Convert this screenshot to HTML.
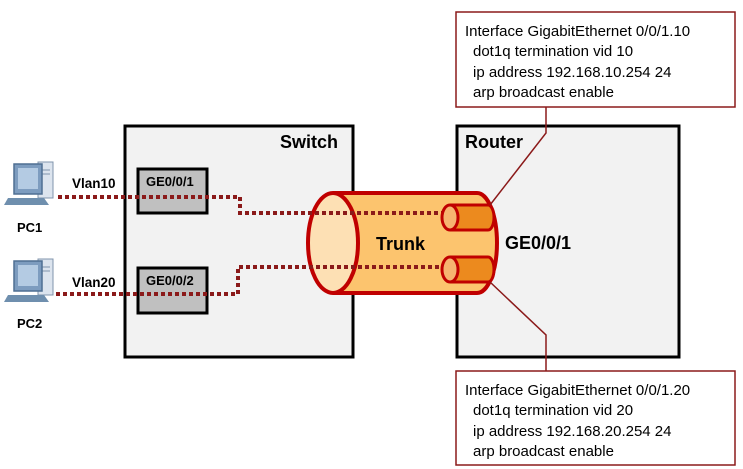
<!DOCTYPE html>
<html><head><style>
html,body{margin:0;padding:0;background:#fff;}
svg{display:block;font-family:"Liberation Sans",Arial,sans-serif;}
</style></head><body>
<svg width="743" height="469" viewBox="0 0 743 469" xmlns="http://www.w3.org/2000/svg">
<rect width="743" height="469" fill="#fff"/>
<rect x="125" y="126" width="228" height="231" fill="#f2f2f2" stroke="#000" stroke-width="3"/>
<text x="338" y="148" font-size="18" font-weight="bold" text-anchor="end">Switch</text>
<rect x="457" y="126" width="222" height="231" fill="#f2f2f2" stroke="#000" stroke-width="3"/>
<text x="465" y="148" font-size="18" font-weight="bold">Router</text>
<text x="505" y="249" font-size="18" font-weight="bold">GE0/0/1</text>
<rect x="138" y="169" width="69" height="44" fill="#c0c0c0" stroke="#000" stroke-width="3"/>
<text x="146" y="186" font-size="13" font-weight="bold">GE0/0/1</text>
<rect x="138" y="268" width="69" height="45" fill="#c0c0c0" stroke="#000" stroke-width="3"/>
<text x="146" y="285" font-size="13" font-weight="bold">GE0/0/2</text>
<g id="pc">
<rect x="38" y="162" width="15" height="36" fill="#dce4ee" stroke="#8094ac" stroke-width="1"/>
<line x1="41" y1="170" x2="50" y2="170" stroke="#8094ac"/>
<line x1="41" y1="174" x2="50" y2="174" stroke="#8094ac"/>
<rect x="14" y="164" width="28" height="30" fill="#7d9cbf" stroke="#4f6f92" stroke-width="1.5"/>
<rect x="18" y="168" width="20" height="21" fill="#b4cbe3"/>
<polygon points="8,198 44,198 49,205 4,205" fill="#6f8fae"/>
</g>
<use href="#pc" y="97"/>
<text x="17" y="232" font-size="13" font-weight="bold">PC1</text>
<text x="17" y="328" font-size="13" font-weight="bold">PC2</text>
<text x="72" y="188" font-size="13.5" font-weight="bold">Vlan10</text>
<text x="72" y="287" font-size="13.5" font-weight="bold">Vlan20</text>
<path d="M333,193 L477,193 A20,50 0 0 1 477,293 L333,293" fill="#fcc46e" stroke="#c00000" stroke-width="4"/>
<ellipse cx="333" cy="243" rx="25" ry="50" fill="#fde0b4" stroke="#c00000" stroke-width="4"/>
<text x="376" y="250" font-size="18" font-weight="bold">Trunk</text>
<path d="M58,197 H240 V213 H445" fill="none" stroke="#8b1a1a" stroke-width="4" stroke-dasharray="4,3"/>
<path d="M56,294 H238 V267 H445" fill="none" stroke="#8b1a1a" stroke-width="4" stroke-dasharray="4,3"/>
<path d="M450,205 H488 A6,12.5 0 0 1 488,230 H450" fill="#ec8a1e" stroke="#c00000" stroke-width="3"/>
<ellipse cx="450" cy="217.5" rx="8" ry="12.5" fill="#f6b470" stroke="#c00000" stroke-width="3"/>
<path d="M450,257 H488 A6,12.5 0 0 1 488,282 H450" fill="#ec8a1e" stroke="#c00000" stroke-width="3"/>
<ellipse cx="450" cy="269.5" rx="8" ry="12.5" fill="#f6b470" stroke="#c00000" stroke-width="3"/>
<polyline points="546,107 546,133 490,205" fill="none" stroke="#8b1a1a" stroke-width="1.5"/>
<polyline points="490,282 546,335 546,371" fill="none" stroke="#8b1a1a" stroke-width="1.5"/>
<rect x="456" y="12" width="279" height="95" fill="#fff" stroke="#8b1a1a" stroke-width="1.5"/>
<g font-size="15" fill="#000">
<text x="465" y="36">Interface GigabitEthernet 0/0/1.10</text>
<text x="473" y="56">dot1q termination vid 10</text>
<text x="473" y="77">ip address 192.168.10.254 24</text>
<text x="473" y="97">arp broadcast enable</text>
</g>
<rect x="456" y="371" width="279" height="94" fill="#fff" stroke="#8b1a1a" stroke-width="1.5"/>
<g font-size="15" fill="#000">
<text x="465" y="395">Interface GigabitEthernet 0/0/1.20</text>
<text x="473" y="415">dot1q termination vid 20</text>
<text x="473" y="436">ip address 192.168.20.254 24</text>
<text x="473" y="456">arp broadcast enable</text>
</g>
</svg>
</body></html>
